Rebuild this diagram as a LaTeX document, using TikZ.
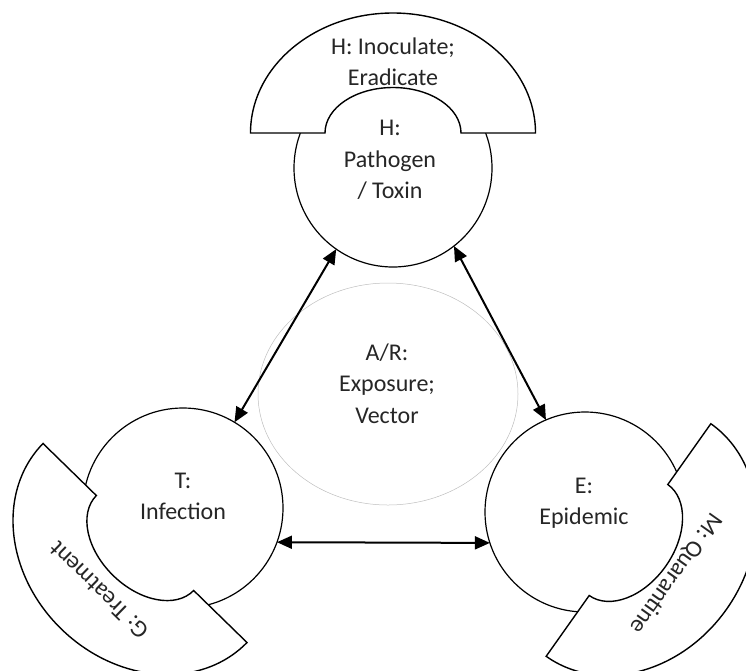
\documentclass[tikz,border=0pt]{standalone}
\usepackage{fontspec}
\setmainfont{Carlito}
\usetikzlibrary{arrows.meta,shapes.geometric}

% outline of a half-annulus "block arc": outer and inner elliptic arcs
\newcommand{\blockarcoutline}{%
  (142.5,0) arc[start angle=0, end angle=180, x radius=142.5, y radius=120]
  -- (-68,0) arc[start angle=180, end angle=0, x radius=68, y radius=45.5]
  -- cycle}

\begin{document}
\begin{tikzpicture}[x=1pt, y=1pt,
  ball/.style={circle, draw=black, line width=1.2pt, fill=white, inner sep=0pt, outer sep=0pt},
  lbl/.style={align=center, inner sep=0pt, font=\fontsize{24}{31.5}\selectfont, text=black!85},
  rim/.style={draw=black, line width=1.4pt, fill=white, line join=miter},
  link/.style={line width=2pt, {Triangle[length=15pt,width=13pt]}-{Triangle[length=15pt,width=13pt]}},
  haze/.style={ellipse, draw=gray!50, line width=0.5pt, inner sep=0pt},
]
\useasboundingbox (0,0) rectangle (746,-670);

% central exposure / vector zone
\node[haze, minimum width=260pt, minimum height=222pt] (AR) at (388,-394) {};
\node[lbl] (ARtext) at (387,-383.5) {A/R:\\Exposure;\\Vector};

% the three main circles
\node[ball, minimum size=198pt] (H) at (393,-168) {};
\node[ball, minimum size=200pt] (T) at (183,-508) {};
\node[ball, minimum size=200pt] (E) at (585,-512) {};

% block arcs hugging each circle
\begin{scope}[shift={(393,-133)}]
  \path[rim] \blockarcoutline;
  \node[lbl] (Hcap) at (0,71) {H: Inoculate;\\Eradicate};
\end{scope}
\begin{scope}[shift={(145,-543)}, rotate=135.7]
  \path[rim] \blockarcoutline;
  \node[lbl, rotate=135.7] (Tcap) at (0,66) {G: Treatment};
\end{scope}
\begin{scope}[shift={(628.5,-540)}, rotate=-125.3]
  \path[rim] \blockarcoutline;
  \node[lbl, rotate=-125.3] (Ecap) at (0,58) {M: Quarantine};
\end{scope}

% circle labels
\node[lbl] (Htext) at (390,-160) {H:\\Pathogen\\/ Toxin};
\node[lbl] (Ttext) at (183,-496.5) {T:\\Infection};
\node[lbl] (Etext) at (584,-503) {E:\\Epidemic};

% two-way links
\draw[link] (H.235.7) -- (T.59.8);
\draw[link] (H.-52.2) -- (E.113);
\draw[link] (T.-20.5) -- (E.198.1);
\end{tikzpicture}
\end{document}
